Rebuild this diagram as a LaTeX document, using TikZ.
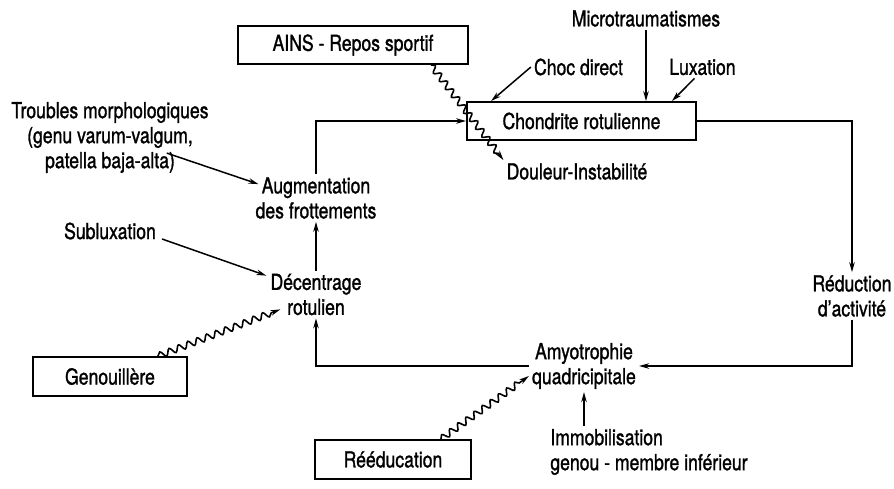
\documentclass[tikz,border=0pt]{standalone}
\usepackage{fontspec}
\setmainfont{TeX Gyre Heros}[FakeStretch=0.8,FakeBold=1.2]
\usetikzlibrary{arrows.meta,decorations.pathmorphing,calc}
\begin{document}
\begin{tikzpicture}[x=1pt,y=-1pt,
  every node/.style={font=\fontsize{22}{25}\selectfont},
  box/.style={draw,line width=1.9pt,minimum height=38pt,inner sep=0pt},
  txt/.style={inner sep=3pt,align=center},
  arr/.style={line width=1.5pt,-{Stealth[length=10pt,width=5.5pt]}},
  wavy/.style={line width=1.6pt,-{Stealth[length=10pt,width=5.5pt]},decorate,
    decoration={snake,amplitude=3.2pt,segment length=10pt,post length=7pt}}]
\fill[white] (0,0) rectangle (894,488);
\useasboundingbox (0,0) rectangle (894,488);
% boxes
\node[box,minimum width=230pt] (ains) at (353,45) {AINS - Repos sportif};
\node[box,minimum width=229pt] (chond) at (581.5,121) {Chondrite rotulienne};
\node[box,minimum width=154pt,minimum height=39pt] (genou) at (110,376.5) {Genouillère};
\node[box,minimum width=156pt,minimum height=39pt] (reed) at (393,459.5) {Rééducation};
% texts
\node[txt] (micro) at (646,18.5) {Microtraumatismes};
\node[txt] (choc) at (578.5,67) {Choc direct};
\node[txt] (lux) at (702.5,67) {Luxation};
\node[txt] (doul) at (577,171.5) {Douleur-Instabilité};
\node[txt] (troub) at (110,137.5) {Troubles morphologiques\\(genu varum-valgum,\\patella baja-alta)};
\node[txt] (aug) at (316,198) {Augmentation\\des frottements};
\node[txt] (sub) at (110,231) {Subluxation};
\node[txt] (dec) at (316,294.5) {Décentrage\\rotulien};
\node[txt] (reduc) at (852,296) {Réduction\\d'activité};
\node[txt] (amyo) at (584,366) {Amyotrophie\\quadricipitale};
\node[txt,align=left] (immo) at (649,452) {Immobilisation\\genou - membre inférieur};
% coordinates
\coordinate (chocE) at ($(chond.north west)+(25,0)$);
\coordinate (luxE) at ($(chond.north east)+(-25,0)$);
\coordinate (a1) at ($(ains.south east)+(-38,0)$);
\coordinate (g1) at ($(genou.north east)+(-30,0)$);
\coordinate (g2) at ($(dec.south west)+(13,-9)$);
\coordinate (r1) at ($(reed.north east)+(-31,0)$);
\coordinate (r2) at ($(amyo.west)+(0,10)$);
% connectors
\draw[arr] (micro.south) -- (micro.south |- chond.north);
\draw[arr] (choc.west) -- (chocE);
\draw[arr] ($(lux.south)+(-8,0)$) -- (luxE);
\draw[arr] (chond.east) -- (chond.east -| reduc) -- (reduc.north);
\draw[arr] (reduc.south) |- (amyo.east);
\draw[arr] (amyo.west) -| (dec.south);
\draw[arr] (dec.north) -- (aug.south);
\draw[arr] (aug.north) |- (chond.west);
\draw[arr] (immo.north -| amyo.south) -- (amyo.south);
\draw[arr] ($(troub.south east)+(-45,-23)$) -- ($(aug.north west)+(6,10)$);
\draw[arr] ($(sub.east)+(3,8)$) -- ($(dec.north west)+(-1,5)$);
% wavy
\draw[wavy] (a1) -- (doul.north west);
\draw[wavy] (g1) -- (g2);
\draw[wavy] (r1) -- (r2);
\end{tikzpicture}
\end{document}
